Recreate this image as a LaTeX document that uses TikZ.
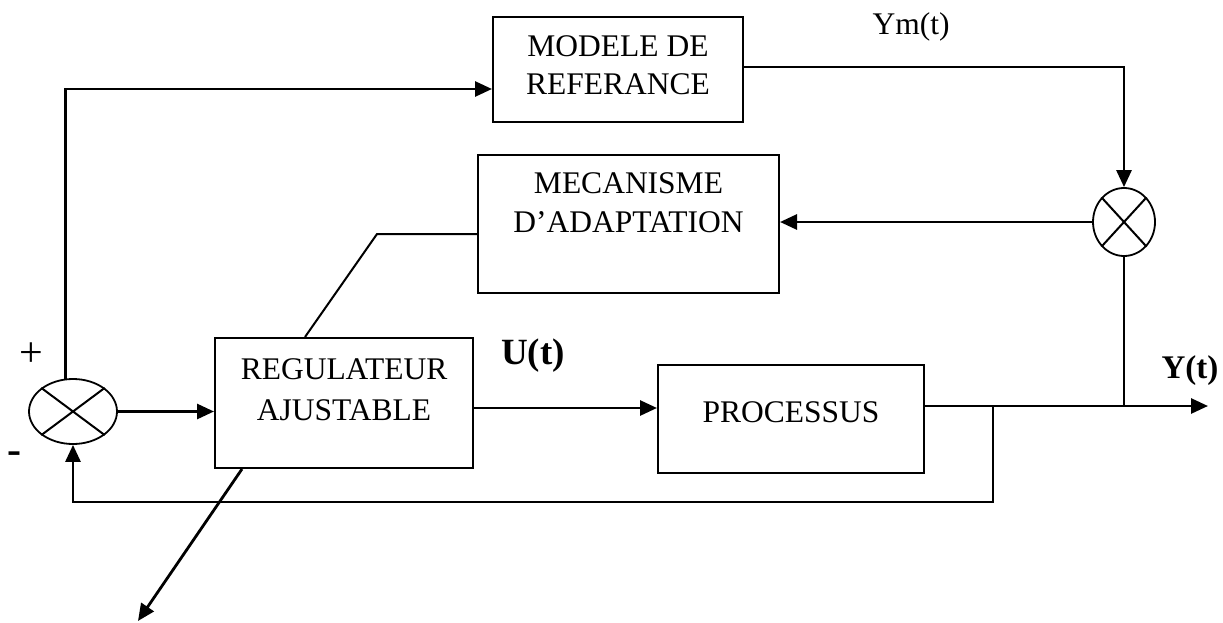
\documentclass[tikz,border=0pt]{standalone}
\usepackage{fontspec}
\setmainfont{Liberation Serif}
\usetikzlibrary{arrows.meta,shapes.geometric,calc}
\tikzset{
  box/.style={draw,line width=2pt,rectangle,inner sep=0pt},
  sumnode/.style={draw,line width=1.8pt,ellipse,inner sep=0pt},
  txt/.style={inner sep=0pt,anchor=base,font=\fontsize{31.5}{38}\selectfont},
  btxt/.style={txt,font=\fontsize{33}{38}\selectfont\bfseries},
  arr/.style={line width=2.8pt,-{Triangle[length=17pt,width=15pt]}},
  ln/.style={line width=2pt},
}
\begin{document}
\begin{tikzpicture}[x=1pt,y=-1pt]
\useasboundingbox (0,0) rectangle (1223,623);
% boxes
\node[box,minimum width=250pt,minimum height=105pt] (mod) at (618,69.5) {};
\node[box,minimum width=301pt,minimum height=138pt] (mec) at (628.5,224) {};
\node[box,minimum width=258pt,minimum height=130pt] (reg) at (344,403) {};
\node[box,minimum width=266pt,minimum height=108pt] (proc) at (791,419) {};
% box texts
\node[txt] (modA) at (618,57) {MODELE DE};
\node[txt] (modB) at (618,95) {REFERANCE};
\node[txt] (mecA) at (628.5,193) {MECANISME};
\node[txt] (mecB) at (628.5,232) {D’ADAPTATION};
\node[txt] (regA) at (344,379) {REGULATEUR};
\node[txt] (regB) at (344,420) {AJUSTABLE};
\node[txt] (procA) at (791,422) {PROCESSUS};
% summing junctions
\node[sumnode,minimum width=88pt,minimum height=65pt] (s1) at (73,411.5) {};
\draw[ln] (s1.north west) -- (s1.south east) (s1.north east) -- (s1.south west);
\node[sumnode,minimum width=62pt,minimum height=68pt] (s2) at (1124,222) {};
\draw[ln] (s2.north west) -- (s2.south east) (s2.north east) -- (s2.south west);
% labels
\node[txt] (ym) at (911,35) {Ym(t)};
\node[btxt,font=\fontsize{37}{40}\selectfont\bfseries] (ut) at (533,364) {U(t)};
\node[btxt] (yt) at (1190,378) {Y(t)};
\node[txt,font=\fontsize{42}{44}\selectfont] (plus) at (31,366) {+};
\node[btxt,font=\fontsize{42}{44}\selectfont\bfseries] (minus) at (14,463) {-};
% coordinates
\coordinate (out) at (1208,406);
\coordinate (fb) at (993,406);
\coordinate (jn) at (1124,406);
\coordinate (bend) at (377,234);
\coordinate (adj) at (138,621);
% connectors
\draw[arr] (s1.103) |- ([yshift=-19.5pt]mod.west);
\draw[arr] (s1.east) -- (reg.west |- s1.east);
\draw[arr] ([yshift=-5pt]reg.east) -- ([yshift=11pt]proc.west);
\draw[arr] ([yshift=13pt]proc.east) -- (out);
\draw[ln] (fb) -- (fb |- 0,502) -| ([yshift=-20pt]s1.south);
\draw[arr] ([yshift=-20pt]s1.south) -- (s1.south);
\draw[ln] ([yshift=2.5pt]mod.east) -| ([yshift=10pt]s2.north);
\draw[arr] ([yshift=10pt]s2.north) -- (s2.north);
\draw[arr] (s2.west) -- (mec.east |- s2.west);
\draw[ln] (s2.south) -- (jn);
\draw[ln] ([yshift=-10pt]mec.west) -- (bend) -- ([xshift=-39pt]reg.north);
\draw[arr] ([xshift=-102pt]reg.south) -- (adj);
\end{tikzpicture}
\end{document}
